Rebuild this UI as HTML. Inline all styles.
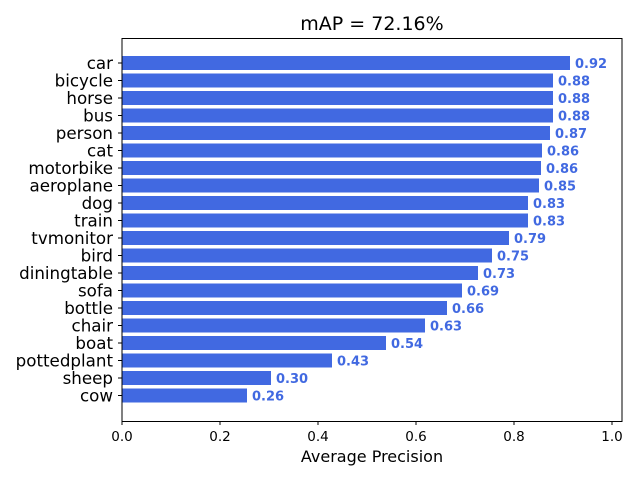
<!DOCTYPE html><html><head><style>body{margin:0;background:#fff}svg{display:block}text{font-family:"DejaVu Sans","Liberation Sans",sans-serif}</style></head><body>
<svg width="640" height="480" xmlns="http://www.w3.org/2000/svg">
<text x="372" y="30" font-size="19" text-anchor="middle">mAP = 72.16%</text>
<g id="bars" fill="#4169e1"></g>
<rect x="122" y="38.5" width="500" height="383" fill="none" stroke="#000" stroke-width="1"/>
<g font-size="13.5" text-anchor="middle">
<line x1="122" y1="421" x2="122" y2="425" stroke="#000"/><text x="122" y="441">0.0</text>
<line x1="220" y1="421" x2="220" y2="425" stroke="#000"/><text x="220" y="441">0.2</text>
<line x1="318" y1="421" x2="318" y2="425" stroke="#000"/><text x="318" y="441">0.4</text>
<line x1="416" y1="421" x2="416" y2="425" stroke="#000"/><text x="416" y="441">0.6</text>
<line x1="514" y1="421" x2="514" y2="425" stroke="#000"/><text x="514" y="441">0.8</text>
<line x1="612" y1="421" x2="612" y2="425" stroke="#000"/><text x="612" y="441">1.0</text>
</g>
<text x="372" y="462" font-size="16" text-anchor="middle">Average Precision</text>
<g id="labels"></g>
<script>
var d=[["car",570,"0.92"],["bicycle",553,"0.88"],["horse",553,"0.88"],["bus",553,"0.88"],["person",550,"0.87"],["cat",542,"0.86"],["motorbike",541,"0.86"],["aeroplane",539,"0.85"],["dog",528,"0.83"],["train",528,"0.83"],["tvmonitor",509,"0.79"],["bird",492,"0.75"],["diningtable",478,"0.73"],["sofa",462,"0.69"],["bottle",447,"0.66"],["chair",425,"0.63"],["boat",386,"0.54"],["pottedplant",332,"0.43"],["sheep",271,"0.30"],["cow",247,"0.26"]];
var ns="http://www.w3.org/2000/svg",b=document.getElementById("bars"),l=document.getElementById("labels");
d.forEach(function(r,i){var c=63+i*17.5;
var e=document.createElementNS(ns,"rect");e.setAttribute("x",122);e.setAttribute("y",c-7);e.setAttribute("width",r[1]-122);e.setAttribute("height",14);b.appendChild(e);
var t=document.createElementNS(ns,"line");t.setAttribute("x1",118);t.setAttribute("x2",122);t.setAttribute("y1",c);t.setAttribute("y2",c);t.setAttribute("stroke","#000");l.appendChild(t);
var x=document.createElementNS(ns,"text");x.setAttribute("x",113);x.setAttribute("y",c+6);x.setAttribute("font-size","16.7");x.setAttribute("text-anchor","end");x.textContent=r[0];l.appendChild(x);
var v=document.createElementNS(ns,"text");v.setAttribute("x",r[1]+5);v.setAttribute("y",c+5);v.setAttribute("font-size","13");v.setAttribute("font-weight","bold");v.setAttribute("fill","#4169e1");v.textContent=r[2];l.appendChild(v);});
</script>
</svg></body></html>
